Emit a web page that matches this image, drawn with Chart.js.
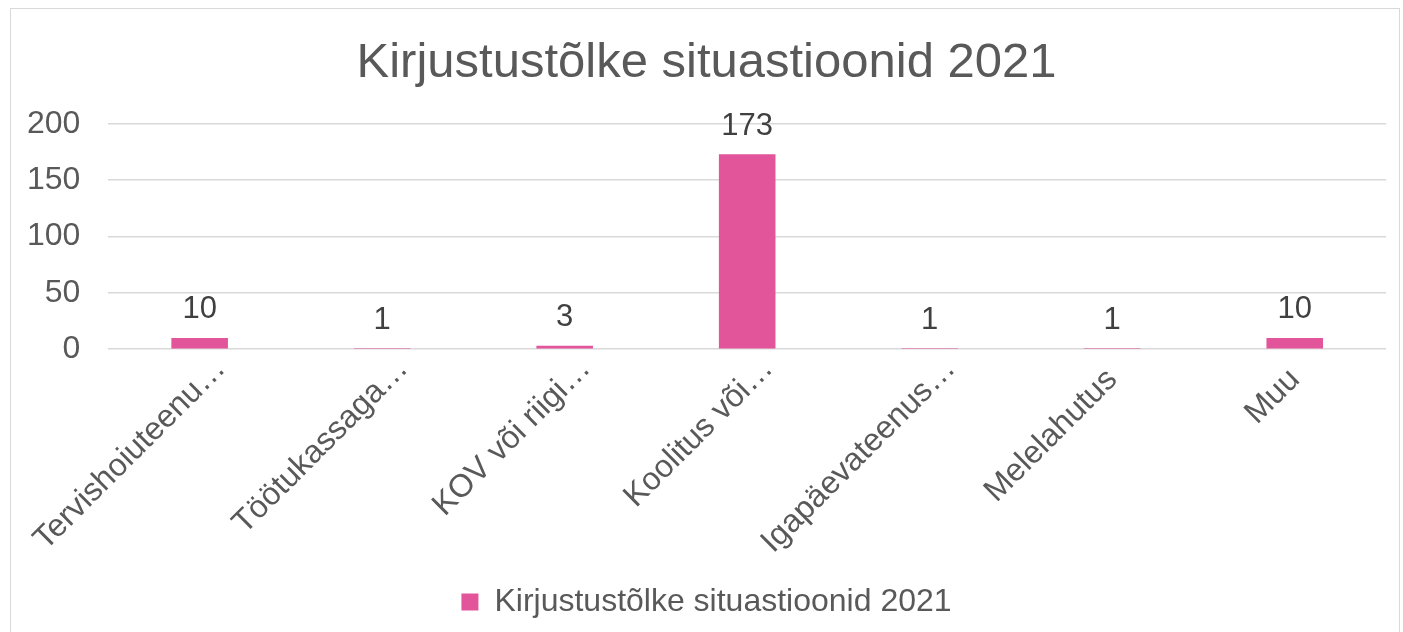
<!DOCTYPE html>
<html>
<head>
<meta charset="utf-8">
<script src="https://cdn.jsdelivr.net/npm/chart.js@4"></script>
<style>
  body { margin: 0; background: #fff; }
  #wrap { position: absolute; left: 10px; top: 8px; width: 1390px; height: 640px; border: 1px solid #d9d9d9; box-sizing: border-box; }
  #chart { position: absolute; left: 0; top: 0; }
</style>
</head>
<body>
<div id="wrap"><canvas id="chart" width="1388" height="623"></canvas></div>
<script>
// Chart data
const chartTitle = 'Kirjustustõlke situastioonid 2021';
const categories = ['Tervishoiuteenu…', 'Töötukassaga…', 'KOV või riigi…', 'Koolitus või…', 'Igapäevateenus…', 'Melelahutus', 'Muu'];
const values = [10, 1, 3, 173, 1, 1, 10];
const yTicks = [0, 50, 100, 150, 200];

const fontFamily = '"Liberation Sans", Arial, sans-serif';

// simple value labels above each bar
const barValueLabels = {
  id: 'barValueLabels',
  afterDatasetsDraw(chart) {
    const ctx = chart.ctx;
    const meta = chart.getDatasetMeta(0);
    ctx.save();
    ctx.font = '31px ' + fontFamily;
    ctx.fillStyle = '#404040';
    ctx.textAlign = 'center';
    ctx.textBaseline = 'middle';
    meta.data.forEach(function(bar, i) {
      ctx.fillText(String(values[i]), bar.x, bar.y - 28);
    });
    ctx.restore();
  }
};

const ctx = document.getElementById('chart').getContext('2d');

const chart = new Chart(ctx, {
  type: 'bar',
  data: {
    labels: categories,
    datasets: [
      { label: chartTitle, data: values, backgroundColor: '#E3559A', borderWidth: 0, barPercentage: 0.31, categoryPercentage: 1 }
    ]
  },
  options: {
    responsive: false,
    animation: false,
    layout: { padding: { left: 16, right: 13, top: 0, bottom: 4 } },
    plugins: {
      title: {
        display: true,
        text: chartTitle,
        color: '#595959',
        font: { family: fontFamily, size: 49, weight: 'normal' },
        padding: { top: 25, bottom: 31 }
      },
      legend: {
        position: 'bottom',
        labels: {
          color: '#595959',
          font: { family: fontFamily, size: 32 },
          boxWidth: 17,
          boxHeight: 17,
          padding: 10
        }
      },
      tooltip: { enabled: false }
    },
    scales: {
      x: {
        grid: { display: false },
        border: { display: false },
        ticks: {
          color: '#595959',
          font: { family: fontFamily, size: 32 },
          maxRotation: 45,
          minRotation: 45,
          autoSkip: false,
          padding: 4
        },
        afterFit: function(axis) {
          // let rotated labels hang past the plot edges, like the original
          axis.paddingLeft = 0;
          axis.paddingRight = 0;
        },
        afterUpdate: function(axis) {
          // in the original the cut-off labels sit a bit further up/right
          const orig = axis._computeLabelItems;
          axis._computeLabelItems = function(area) {
            const items = orig.call(this, area);
            items.forEach(function(item) {
              if (String(item.label).endsWith('…')) {
                item.options.translation[0] += 21;
                item.options.translation[1] -= 11;
              }
            });
            return items;
          };
        }
      },
      y: {
        min: 0,
        max: 200,
        afterBuildTicks: function(axis) {
          axis.ticks = yTicks.map(function(v) { return { value: v }; });
        },
        afterFit: function(axis) {
          // chart.js reserves the tick padding twice, keep only one gap
          axis.width -= axis.options.ticks.padding;
        },
        grid: { color: '#d9d9d9', lineWidth: 1.5, drawTicks: false },
        border: { display: false },
        ticks: {
          color: '#595959',
          font: { family: fontFamily, size: 32 },
          padding: 28
        }
      }
    }
  },
  plugins: [barValueLabels]
});
</script>
</body>
</html>
